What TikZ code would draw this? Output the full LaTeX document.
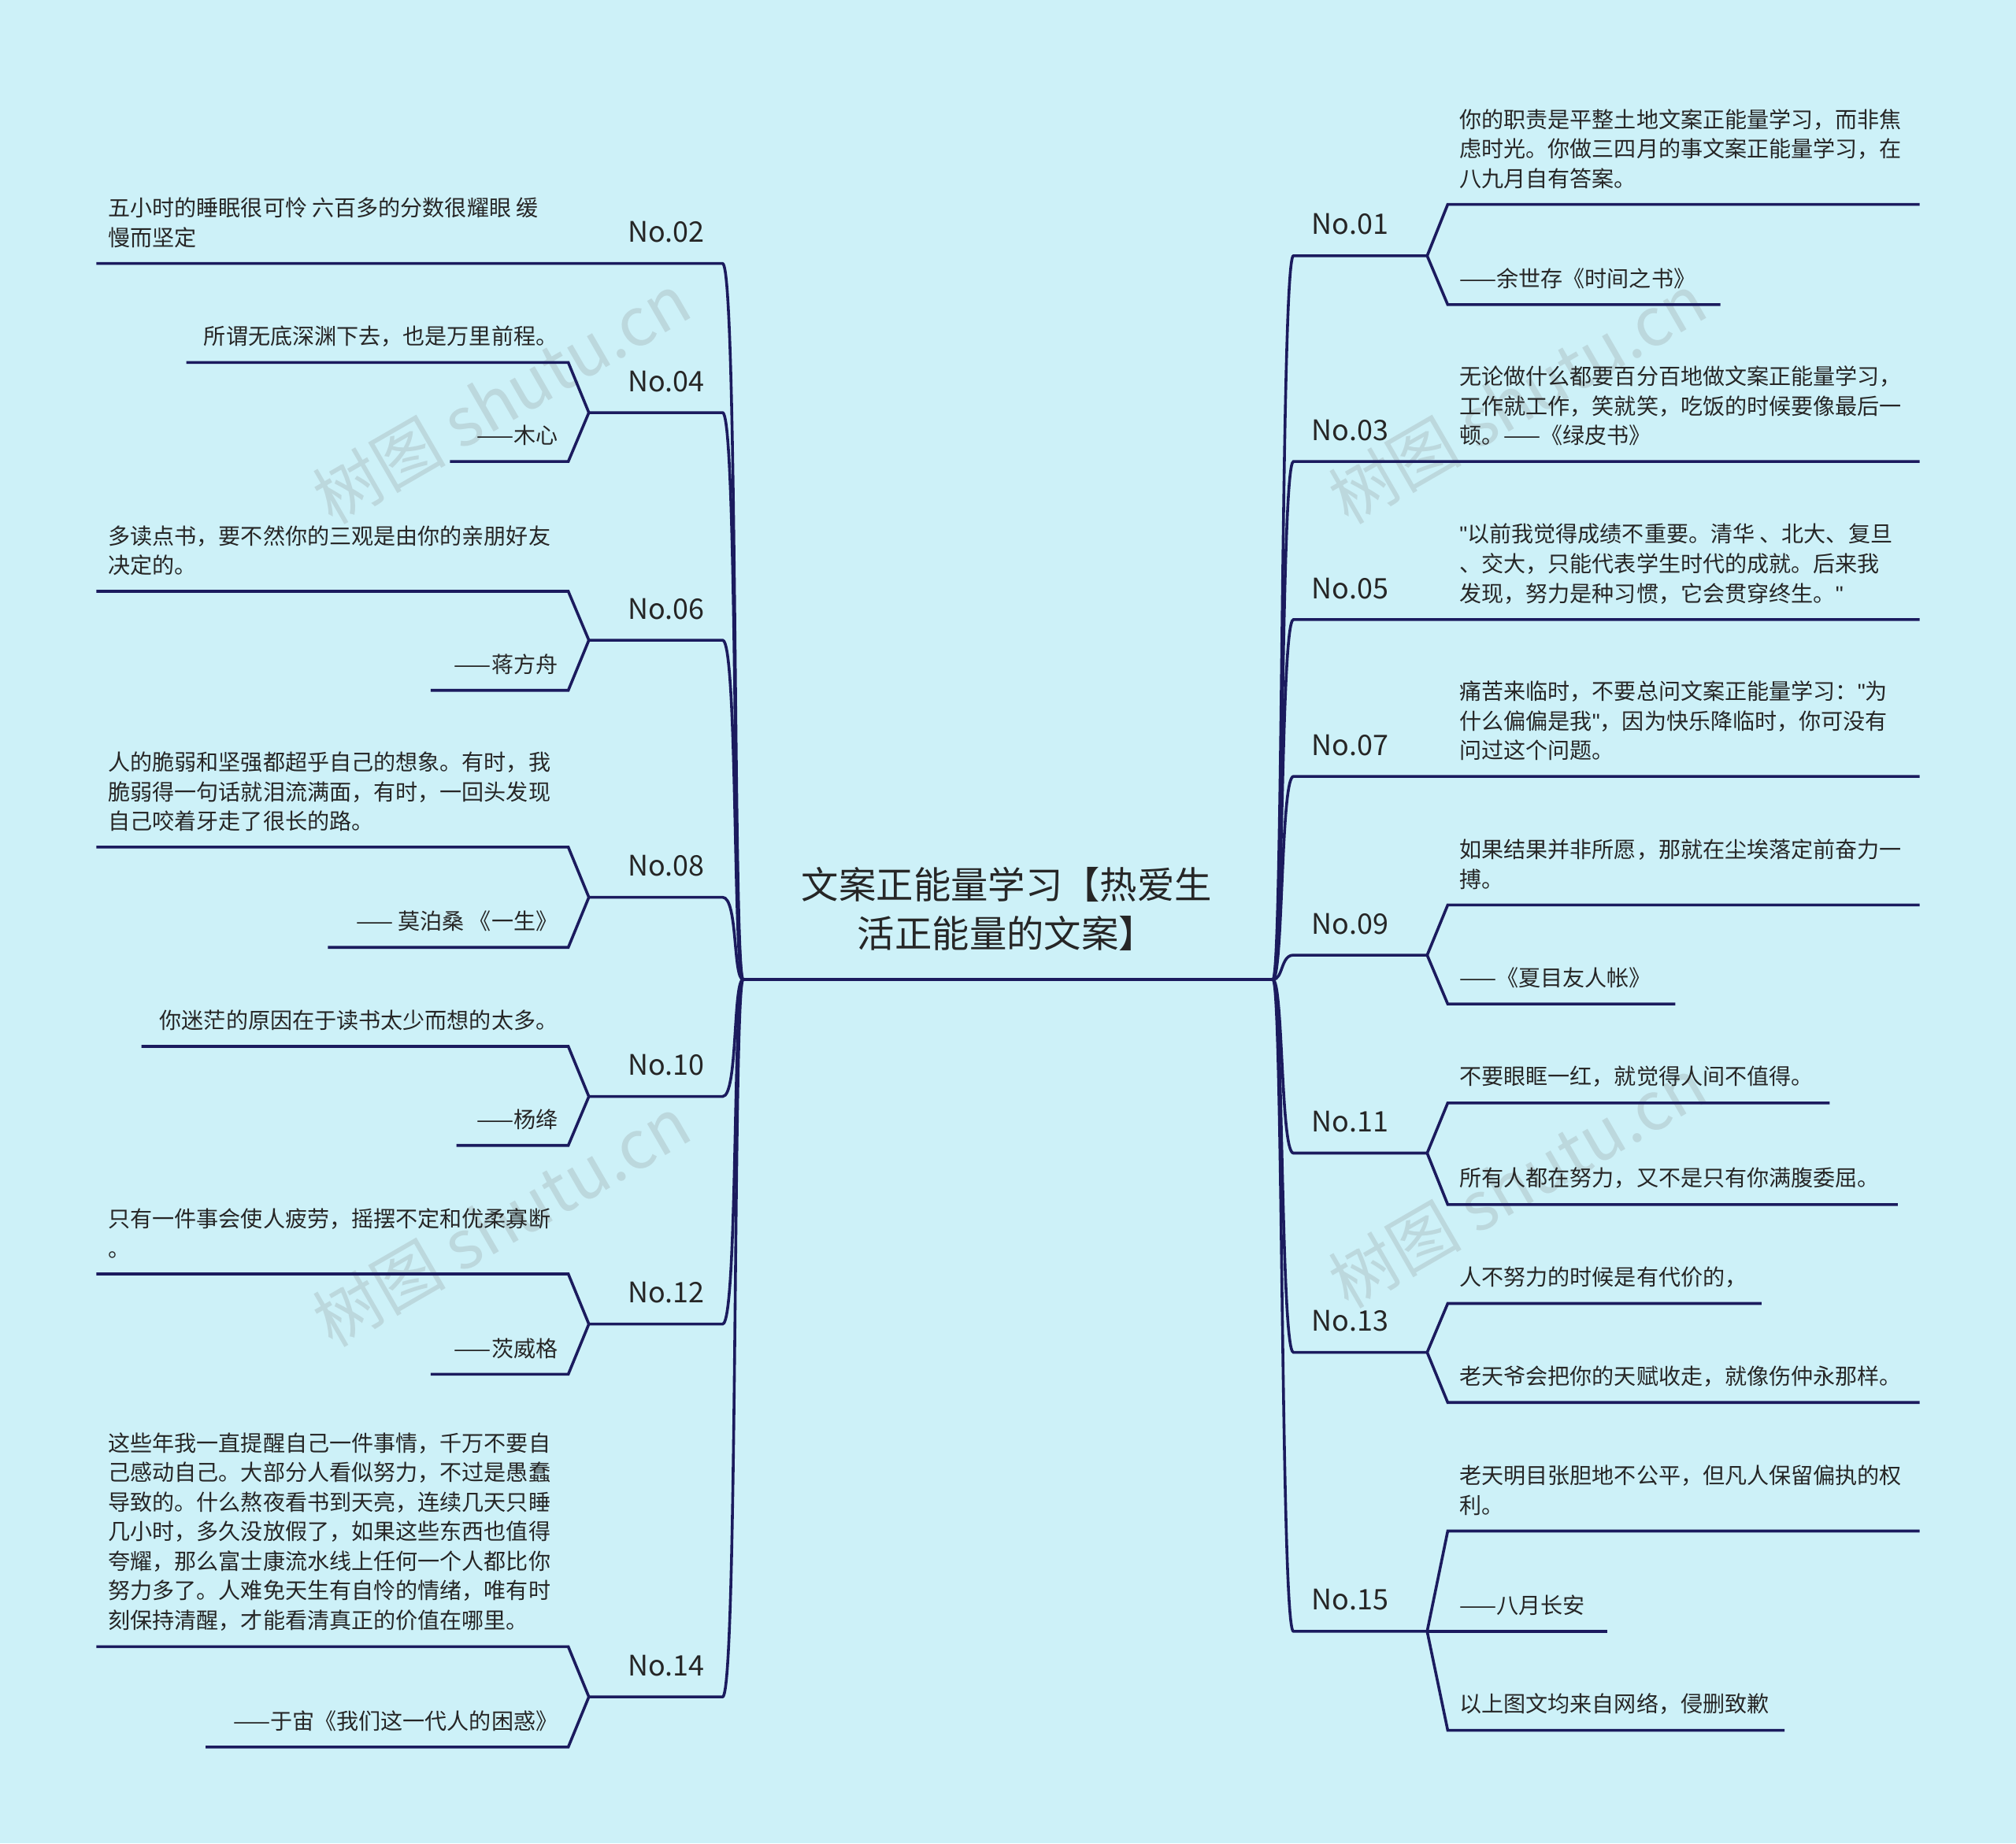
\documentclass[tikz,border=0pt]{standalone}
\usepackage{fontspec}
\setmainfont{Noto Sans CJK SC}
\newfontfamily\qfont{Liberation Sans}
\newcommand\qq{{\qfont"}}
\begin{document}
\begin{tikzpicture}[x=1pt,y=-1pt,
  lf/.style={anchor=south west,align=left,inner sep=0pt,font=\fontsize{17.2}{23}\selectfont,text=black!85},
  nl/.style={anchor=south,inner sep=0pt,font=\fontsize{22}{26}\selectfont,text=black!85}]
\definecolor{bgc}{HTML}{CDF1F8}
\definecolor{lc}{HTML}{1B1B5E}
\tikzset{ln/.style={draw=lc,line width=2.2pt}}
\fill[bgc] (0,0) rectangle (1568,1434);
\useasboundingbox (0,0) rectangle (1568,1434);
% watermarks
\foreach \x/\y in {390/310,390/950,1180/310,1180/920}
  \node[rotate=30,text=gray,opacity=0.22,font=\fontsize{52}{60}\selectfont] at (\x,\y) {树图 shutu.cn};
% center
\node[font=\fontsize{29}{38}\selectfont,align=center,text=black!85] (ctr) at (783,707) {文案正能量学习【热爱生\\活正能量的文案】};
\coordinate (L) at (578,762); \coordinate (R) at (990,762);
\draw[ln] (L) -- (R);
\newcommand\rbranch[3]{%
  \coordinate (#1a) at (1006,#2); \coordinate (#1b) at (1110,#2);
  \draw[ln] (R) .. controls (998,762) and (996,#2) .. (#1a) -- (#1b);
  \node[nl] (#1l) at (1050,#2-16) {#3};}
\newcommand\rleaf[5]{%
  \coordinate (#1s) at (1126,#3); \coordinate (#1e) at (#4,#3);
  \draw[ln] (#2b) -- (#1s) -- (#1e);
  \node[lf] (#1t) at (1135,#3-12) {#5};}
\newcommand\rsingle[4]{%
  \coordinate (#1a) at (1006,#2); \coordinate (#1e) at (1493,#2);
  \draw[ln] (R) .. controls (998,762) and (996,#2) .. (#1a) -- (#1e);
  \node[nl] (#1l) at (1050,#2-16) {#3};
  \node[lf] (#1t) at (1135,#2-12) {#4};}
\rbranch{a}{199}{No.01}
\rleaf{a1}{a}{159}{1493}{你的职责是平整土地文案正能量学习，而非焦\\虑时光。你做三四月的事文案正能量学习，在\\八九月自有答案。}
\rleaf{a2}{a}{237}{1338}{——余世存《时间之书》}
\rsingle{b}{359}{No.03}{无论做什么都要百分百地做文案正能量学习，\\工作就工作，笑就笑，吃饭的时候要像最后一\\顿。——《绿皮书》}
\rsingle{c}{482}{No.05}{\qq 以前我觉得成绩不重要。清华 、北大、复旦\\、交大，只能代表学生时代的成就。后来我\\发现，努力是种习惯，它会贯穿终生。\qq}
\rsingle{d}{604}{No.07}{痛苦来临时，不要总问文案正能量学习：\qq 为\\什么偏偏是我\qq ，因为快乐降临时，你可没有\\问过这个问题。}
\rbranch{e}{743}{No.09}
\rleaf{e1}{e}{704}{1493}{如果结果并非所愿，那就在尘埃落定前奋力一\\搏。}
\rleaf{e2}{e}{781}{1303}{——《夏目友人帐》}
\rbranch{f}{897}{No.11}
\rleaf{f1}{f}{858}{1423}{不要眼眶一红，就觉得人间不值得。}
\rleaf{f2}{f}{937}{1476}{所有人都在努力，又不是只有你满腹委屈。}
\rbranch{g}{1052}{No.13}
\rleaf{g1}{g}{1014}{1370}{人不努力的时候是有代价的，}
\rleaf{g2}{g}{1091}{1493}{老天爷会把你的天赋收走，就像伤仲永那样。}
\rbranch{h}{1269}{No.15}
\rleaf{h1}{h}{1191}{1493}{老天明目张胆地不公平，但凡人保留偏执的权\\利。}
\rleaf{h2}{h}{1269}{1250}{——八月长安}
\rleaf{h3}{h}{1346}{1388}{以上图文均来自网络，侵删致歉}
% left side
\newcommand\lbranch[3]{%
  \coordinate (#1a) at (562,#2); \coordinate (#1b) at (458,#2);
  \draw[ln] (L) .. controls (570,762) and (574,#2) .. (#1a) -- (#1b);
  \node[nl] (#1l) at (518,#2-16) {#3};}
\newcommand\lleaf[5]{%
  \coordinate (#1s) at (442,#3); \coordinate (#1e) at (#4,#3);
  \draw[ln] (#2b) -- (#1s) -- (#1e);
  \node[lf,anchor=south east,align=right] (#1t) at (434,#3-12) {#5};}
\newcommand\lleafl[4]{%
  \coordinate (#1s) at (442,#3); \coordinate (#1e) at (75,#3);
  \draw[ln] (#2b) -- (#1s) -- (#1e);
  \node[lf] (#1t) at (84,#3-12) {#4};}
\coordinate (pa) at (562,205); \coordinate (pe) at (75,205);
\draw[ln] (L) .. controls (570,762) and (574,205) .. (pa) -- (pe);
\node[nl] (pl) at (518,189) {No.02};
\node[lf] (pt) at (84,193) {五小时的睡眠很可怜 六百多的分数很耀眼 缓\\慢而坚定};
\lbranch{q}{321}{No.04}
\lleaf{q1}{q}{282}{145}{所谓无底深渊下去，也是万里前程。}
\lleaf{q2}{q}{359}{350}{——木心}
\lbranch{r}{498}{No.06}
\lleafl{r1}{r}{460}{多读点书，要不然你的三观是由你的亲朋好友\\决定的。}
\lleaf{r2}{r}{537}{335}{——蒋方舟}
\lbranch{s}{698}{No.08}
\lleafl{s1}{s}{659}{人的脆弱和坚强都超乎自己的想象。有时，我\\脆弱得一句话就泪流满面，有时，一回头发现\\自己咬着牙走了很长的路。}
\lleaf{s2}{s}{737}{255}{—— 莫泊桑 《一生》}
\lbranch{t}{853}{No.10}
\lleaf{t1}{t}{814}{110}{你迷茫的原因在于读书太少而想的太多。}
\lleaf{t2}{t}{891}{355}{——杨绛}
\lbranch{u}{1030}{No.12}
\lleafl{u1}{u}{991}{只有一件事会使人疲劳，摇摆不定和优柔寡断\\。}
\lleaf{u2}{u}{1069}{335}{——茨威格}
\lbranch{v}{1320}{No.14}
\lleafl{v1}{v}{1281}{这些年我一直提醒自己一件事情，千万不要自\\己感动自己。大部分人看似努力，不过是愚蠢\\导致的。什么熬夜看书到天亮，连续几天只睡\\几小时，多久没放假了，如果这些东西也值得\\夸耀，那么富士康流水线上任何一个人都比你\\努力多了。人难免天生有自怜的情绪，唯有时\\刻保持清醒，才能看清真正的价值在哪里。}
\lleaf{v2}{v}{1359}{160}{——于宙《我们这一代人的困惑》}
\end{tikzpicture}
\end{document}
